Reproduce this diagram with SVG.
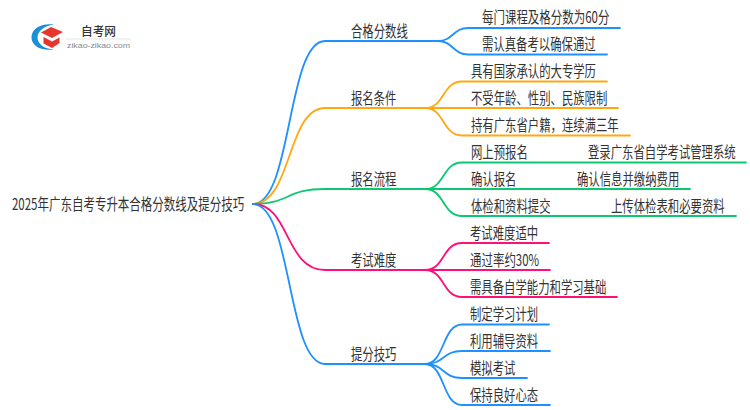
<svg xmlns="http://www.w3.org/2000/svg" width="750" height="410" viewBox="0 0 750 410">
<style>
text{font-family:"Noto Sans CJK SC","Liberation Sans",sans-serif;font-size:15.500px;fill:#333}
.c{fill:none;stroke-width:1.8;stroke-linecap:round}
.b{stroke:#1e90ff}.o{stroke:#ffa80f}.g{stroke:#0cc870}.p{stroke:#ff0f78}
</style>
<rect width="750" height="410" fill="#fff"/>
<g id="logo">
<path d="M54 24.500C40 23 31.500 29 31.500 37.500C31.500 45 40 51.500 54 49.500C44 49 37.500 44 37.500 37.500C37.500 31 44 26 54 24.500Z" fill="#1b8fd8"/>
<path d="M41 32.500L51 27L63 32L52 38Z" fill="#e8352e"/>
<path d="M43.500 37L52 41.500L59.500 37.500V43L52 48L43.500 43.500Z" fill="#e8352e"/>
<text x="81" y="36" textLength="35" lengthAdjust="spacingAndGlyphs" style="font-size:12px;font-weight:500;fill:#333">自考网</text>
<rect x="66" y="38.500" width="65" height="1" fill="#e6e6e6"/>
<text x="67" y="48" textLength="63" lengthAdjust="spacingAndGlyphs" style="font-family:'Liberation Sans',sans-serif;font-size:8px;fill:#888">zikao-zikao.com</text>
</g>
<g id="connectors">
<path class="c b" d="M253 204C292 204 287 41 325 41H440"/>
<path class="c o" d="M253 204C292 204 287 108 325 108H425"/>
<path class="c g" d="M253 204C290 204 285 189 325 189H425"/>
<path class="c p" d="M253 204C290 204 285 270 325 270H425"/>
<path class="c b" d="M253 204C292 204 287 364 325 364H425"/>
<path class="c b" d="M438 41C453 41 453 28 468 28H620"/>
<path class="c b" d="M438 41C453 41 453 54.500 468 54.500H607"/>
<path class="c o" d="M425 108C445 108 442 81.500 462 81.500H607"/>
<path class="c o" d="M425 108H618"/>
<path class="c o" d="M425 108C445 108 442 135.500 462 135.500H630"/>
<path class="c g" d="M425 189C445 189 442 162.500 462 162.500H746"/>
<path class="c g" d="M425 189H690"/>
<path class="c g" d="M425 189C445 189 442 216 462 216H736"/>
<path class="c p" d="M425 270C445 270 442 243 462 243H549"/>
<path class="c p" d="M425 270H550"/>
<path class="c p" d="M425 270C445 270 442 297 462 297H617"/>
<path class="c b" d="M425 364C445 364 442 324.500 462 324.500H549"/>
<path class="c b" d="M425 364C445 364 442 351 462 351H550"/>
<path class="c b" d="M425 364C445 364 442 378 462 378H527"/>
<path class="c b" d="M425 364C445 364 442 405 462 405H550"/>
</g>
<g id="root"><text transform="matrix(.742 0 0 1 12 210)">2025年广东自考专升本合格分数线及提分技巧</text></g>
<g id="n1"><text transform="matrix(.734 0 0 1 351 36.500)">合格分数线</text></g>
<g id="n2"><text transform="matrix(.734 0 0 1 351 103.500)">报名条件</text></g>
<g id="n3"><text transform="matrix(.734 0 0 1 351 184.500)">报名流程</text></g>
<g id="n4"><text transform="matrix(.734 0 0 1 351 265.500)">考试难度</text></g>
<g id="n5"><text transform="matrix(.734 0 0 1 351 359.500)">提分技巧</text></g>
<g id="l11"><text transform="matrix(.74 0 0 1 482 23)">每门课程及格分数为60分</text></g>
<g id="l12"><text transform="matrix(.734 0 0 1 482 50)">需认真备考以确保通过</text></g>
<g id="l21"><text transform="matrix(.734 0 0 1 471 77)">具有国家承认的大专学历</text></g>
<g id="l22"><text transform="matrix(.734 0 0 1 471 104)">不受年龄、性别、民族限制</text></g>
<g id="l23"><text transform="matrix(.734 0 0 1 471 131)">持有广东省户籍，连续满三年</text></g>
<g id="l31"><text transform="matrix(.734 0 0 1 471 158)">网上预报名</text></g>
<g id="l31a"><text transform="matrix(.734 0 0 1 588 158)">登录广东省自学考试管理系统</text></g>
<g id="l32"><text transform="matrix(.734 0 0 1 471 185)">确认报名</text></g>
<g id="l32a"><text transform="matrix(.734 0 0 1 577 185)">确认信息并缴纳费用</text></g>
<g id="l33"><text transform="matrix(.734 0 0 1 471 211.500)">体检和资料提交</text></g>
<g id="l33a"><text transform="matrix(.734 0 0 1 611 211.500)">上传体检表和必要资料</text></g>
<g id="l41"><text transform="matrix(.734 0 0 1 470 238.500)">考试难度适中</text></g>
<g id="l42"><text transform="matrix(.74 0 0 1 470 265.500)">通过率约30%</text></g>
<g id="l43"><text transform="matrix(.734 0 0 1 470 292.500)">需具备自学能力和学习基础</text></g>
<g id="l51"><text transform="matrix(.734 0 0 1 470 320)">制定学习计划</text></g>
<g id="l52"><text transform="matrix(.734 0 0 1 470 346.500)">利用辅导资料</text></g>
<g id="l53"><text transform="matrix(.734 0 0 1 470 373.500)">模拟考试</text></g>
<g id="l54"><text transform="matrix(.734 0 0 1 470 400.500)">保持良好心态</text></g>
</svg>
